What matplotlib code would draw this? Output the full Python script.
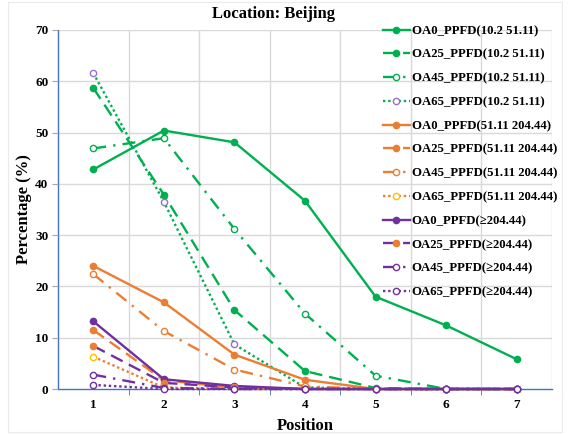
import matplotlib
matplotlib.use("Agg")
import matplotlib.pyplot as plt
from matplotlib.patches import Rectangle
import numpy as np

positions = [1, 2, 3, 4, 5, 6, 7]

g_oa0 = [42.8, 50.4, 48.1, 36.7, 18.0, 12.4, 5.8]
g_oa25 = [58.7, 37.9, 15.4, 3.5, 0.2, 0, 0]
g_oa45 = [46.9, 48.9, 31.2, 14.7, 2.6, 0, 0]
g_oa65 = [61.6, 36.5, 8.7, 0.3, 0, 0, 0]
o_oa0 = [24.0, 16.9, 6.7, 1.8, 0, 0, 0]
o_oa25 = [11.5, 1.7, 0.3, 0, 0, 0, 0]
o_oa45 = [22.4, 11.3, 3.8, 0.5, 0, 0, 0]
o_oa65 = [6.3, 0.3, 0, 0, 0, 0, 0]
p_oa0 = [13.2, 1.9, 0.6, 0, 0, 0, 0]
p_oa25 = [8.4, 1.2, 0.3, 0, 0, 0, 0]
p_oa45 = [2.8, 0.2, 0, 0, 0, 0, 0]
p_oa65 = [0.8, 0, 0, 0, 0, 0, 0]

labels = [
    "OA0_PPFD(10.2 51.11)", "OA25_PPFD(10.2 51.11)", "OA45_PPFD(10.2 51.11)", "OA65_PPFD(10.2 51.11)",
    "OA0_PPFD(51.11 204.44)", "OA25_PPFD(51.11 204.44)", "OA45_PPFD(51.11 204.44)", "OA65_PPFD(51.11 204.44)",
    "OA0_PPFD(\u2265204.44)", "OA25_PPFD(\u2265204.44)", "OA45_PPFD(\u2265204.44)", "OA65_PPFD(\u2265204.44)",
]
series = [g_oa0, g_oa25, g_oa45, g_oa65, o_oa0, o_oa25, o_oa45, o_oa65, p_oa0, p_oa25, p_oa45, p_oa65]

GREEN = "#00B050"
ORANGE = "#ED7D31"
PURPLE = "#7030A0"
YELLOW = "#FFC000"
LAV = "#9A6FD0"

line_colors = [GREEN] * 4 + [ORANGE] * 4 + [PURPLE] * 4
marker_edge = [GREEN, GREEN, GREEN, LAV, ORANGE, ORANGE, ORANGE, YELLOW, PURPLE, ORANGE, PURPLE, PURPLE]
marker_fill = [GREEN, GREEN, "white", "white", ORANGE, ORANGE, "white", "white", PURPLE, ORANGE, "white", "white"]
styles = ["-", (0, (5.5, 3)), (0, (5.5, 3, 1, 3)), (0, (1, 1.2))] * 3

plt.rcParams["font.family"] = ["Liberation Serif", "DejaVu Serif"]
plt.rcParams["font.weight"] = "bold"

fig = plt.figure(figsize=(5.72, 4.34), dpi=100)
ax = fig.add_axes([58 / 572, 1 - 389 / 434, (552 - 58) / 572, (389 - 30) / 434])

for ys, lab, lc, me, mf, ls in zip(series, labels, line_colors, marker_edge, marker_fill, styles):
    ax.plot(positions, ys, color=lc, linestyle=ls, linewidth=1.7, marker="o",
            markersize=4.5, markeredgecolor=me, markerfacecolor=mf, markeredgewidth=1.0,
            label=lab, clip_on=False)

ax.set_xlim(0.5, 7.5)
ax.set_ylim(0, 70)
ax.set_xticks(positions)
ax.set_xticks(np.arange(1.5, 7.5, 1), minor=True)
ax.set_yticks(np.arange(0, 71, 10))
ax.tick_params(axis="x", which="major", length=0, pad=7, labelsize=9.5)
ax.tick_params(axis="x", which="minor", length=4, color="#4472C4", direction="out")
ax.tick_params(axis="y", length=4, color="#A6A6A6", pad=3, labelsize=9.5)
for t in ax.get_xticklabels() + ax.get_yticklabels():
    t.set_fontweight("bold")

ax.grid(False)
for xv in np.arange(1.5, 8.0, 1):
    ax.axvline(xv, color="#D9D9D9", linewidth=1.0, zorder=0)
for yv in range(10, 71, 10):
    ax.axhline(yv, color="#D9D9D9", linewidth=1.0, zorder=0)

for s in ["top", "right"]:
    ax.spines[s].set_visible(False)
for s in ["left", "bottom"]:
    ax.spines[s].set_color("#4472C4")
    ax.spines[s].set_linewidth(1.0)
    ax.spines[s].set_zorder(1)

ax.set_xlabel("Position", fontsize=12, fontweight="bold", labelpad=5)
ax.set_ylabel("Percentage (%)", fontsize=12, fontweight="bold", labelpad=2)
fig.text(273 / 572, 1 - 14 / 434, "Location: Beijing", ha="center", va="center",
         fontsize=12, fontweight="bold")

leg = fig.legend(loc="upper left", bbox_to_anchor=(383 / 572, 1 - 25 / 434),
                 frameon=False, borderpad=0, borderaxespad=0,
                 handlelength=2.1, handletextpad=0.15, labelspacing=0.92,
                 prop={"family": ["Liberation Serif", "DejaVu Serif"], "weight": "bold", "size": 9.2})

fig.add_artist(Rectangle((8 / 572, 2 / 434), 554 / 572, 430 / 434, transform=fig.transFigure,
                         fill=False, edgecolor="#EBEBEB", linewidth=0.8))

fig.savefig("out.png", dpi=100)
